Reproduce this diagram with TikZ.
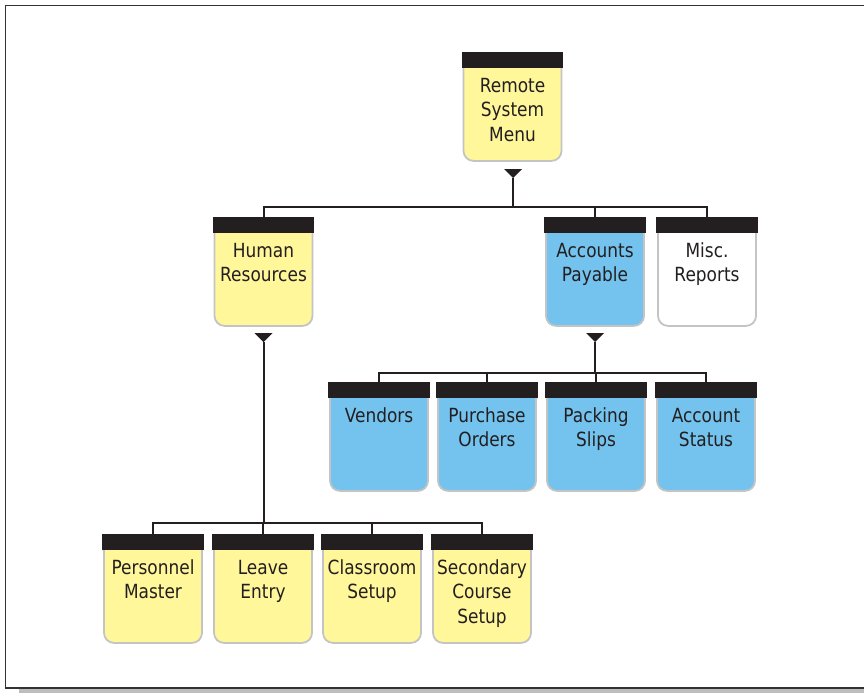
\documentclass[tikz,border=0pt]{standalone}
\usepackage{fontspec}
\setmainfont[FakeStretch=0.87]{DejaVu Sans}
\definecolor{pyellow}{HTML}{FFF79A}
\definecolor{pblue}{HTML}{73C3EE}
\definecolor{pwhite}{HTML}{FFFFFF}
\definecolor{barblack}{HTML}{231F20}
\definecolor{boxedge}{HTML}{C4C4C4}
\definecolor{framecol}{HTML}{333333}
\definecolor{shadowgray}{HTML}{BDBDBD}
\newcommand\menubox[5]{%
  \node[box, fill=#4] (#1) at (#2,#3) {};
  \fill[barblack] ([xshift=-0.9pt,yshift=0.9pt]#1.north west) rectangle ([xshift=0.9pt,yshift=-15pt]#1.north east);
  \node[lbl] (#1-t) at ([yshift=-21pt]#1.north) {\rule{0pt}{18pt}#5};
}
\newcommand\dropmark[3]{%
  \coordinate (#1) at (#2,#3);
  \fill[barblack] (#1) -- ++(-9,-9) -- ++(18,0) -- cycle;
}
\begin{document}
\begin{tikzpicture}[x=1pt,y=-1pt,
  box/.style={draw=boxedge, line width=1.8pt, rounded corners=10pt, minimum width=98pt, minimum height=107pt, inner sep=0pt, anchor=north},
  lbl/.style={align=center, anchor=north, inner sep=0pt, font=\fontsize{19.5}{24.5}\selectfont, text=barblack},
  conn/.style={draw=barblack, line width=2pt}]
\useasboundingbox (0,0) rectangle (864,693);
% frame
\fill[shadowgray] (19,689) rectangle (864,693);
\draw[framecol, line width=1.5pt] (864,5.5) -- (5.5,5.5) -- (5.5,688) -- (864,688);
% boxes
\menubox{rsm}{512.5}{53}{pyellow}{Remote\\System\\Menu}
\menubox{hr}{263.5}{218}{pyellow}{Human\\Resources}
\menubox{ap}{595}{218}{pblue}{Accounts\\Payable}
\menubox{misc}{707}{218}{pwhite}{Misc.\\Reports}
\menubox{ven}{379}{383}{pblue}{Vendors}
\menubox{po}{487}{383}{pblue}{Purchase\\Orders}
\menubox{ps}{596}{383}{pblue}{Packing\\Slips}
\menubox{as}{706}{383}{pblue}{Account\\Status}
\menubox{pm}{153}{535}{pyellow}{Personnel\\Master}
\menubox{le}{263}{535}{pyellow}{Leave\\Entry}
\menubox{cs}{372}{535}{pyellow}{Classroom\\Setup}
\menubox{scs}{482}{535}{pyellow}{Secondary\\Course\\Setup}
% drop markers
\dropmark{t1}{513}{178}
\dropmark{t2}{263.5}{342}
\dropmark{t3}{595}{342}
% buses
\coordinate (bus1) at (513,207);
\coordinate (bus2) at (263.5,523);
\coordinate (bus3) at (595,373);
\draw[conn] (t1) -- (bus1);
\draw[conn] (hr.north) |- (bus1) -| (misc.north);
\draw[conn] (ap.north) -- (ap.north |- bus1);
\draw[conn] (t3) -- (bus3);
\draw[conn] (ven.north) |- (bus3) -| (as.north);
\draw[conn] (po.north) -- (po.north |- bus3);
\draw[conn] (ps.north) -- (ps.north |- bus3);
\draw[conn] (t2) -- (bus2);
\draw[conn] (pm.north) |- (bus2) -| (scs.north);
\draw[conn] (le.north) -- (le.north |- bus2);
\draw[conn] (cs.north) -- (cs.north |- bus2);
\end{tikzpicture}
\end{document}
